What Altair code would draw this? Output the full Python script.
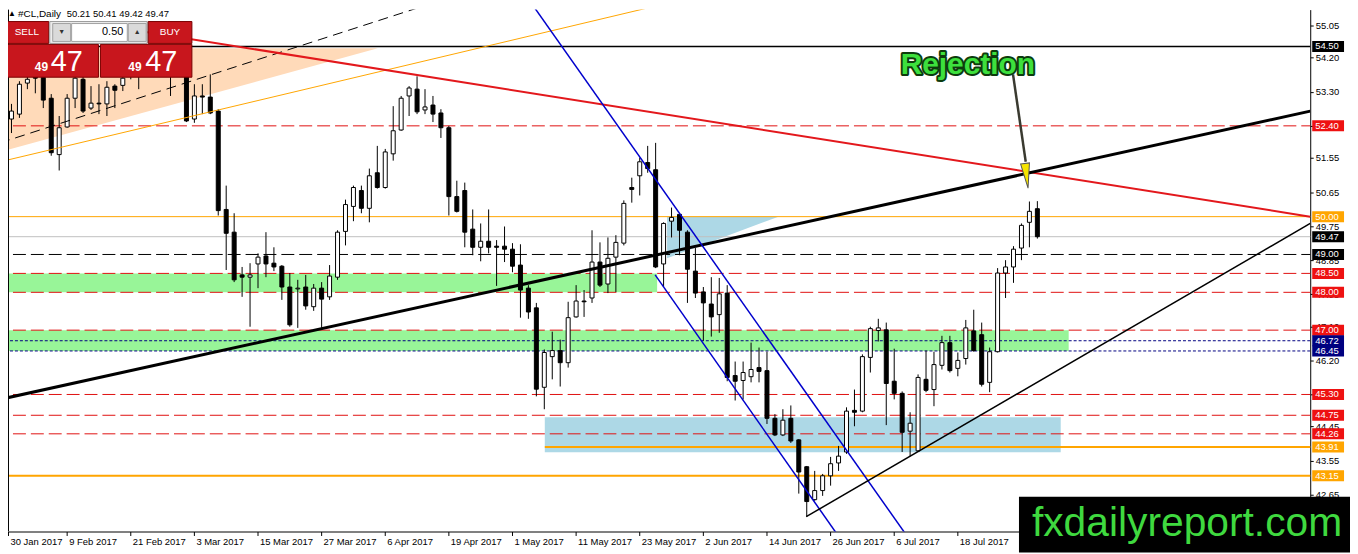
import json

import altair as alt
import pandas as pd

# #CL daily candles, bar 0 = 30 Jan 2017, one bar per trading day
opens = [53.19, 52.58, 52.71, 53.53, 53.71, 53.68, 53.13, 51.64, 52.37, 53.13,
         53.63, 52.87, 53.00, 52.98, 53.45, 53.47, 53.84, 53.79, 53.84, 54.11,
         53.97, 53.84, 53.79, 53.95, 52.58, 53.19, 53.16, 52.79, 50.19, 49.59,
         48.46, 48.40, 48.75, 48.96, 48.77, 48.69, 48.14, 48.09, 48.14, 47.62,
         48.11, 47.88, 48.40, 49.61, 50.27, 50.69, 50.22, 51.16, 50.77, 51.66,
         52.29, 53.19, 53.37, 52.82, 52.95, 52.74, 52.35, 50.53, 50.69, 49.67,
         49.19, 49.35, 49.22, 49.22, 49.14, 48.72, 48.11, 47.59, 45.49, 46.30,
         46.46, 46.14, 47.35, 47.77, 47.85, 48.80, 48.22, 48.93, 49.30, 50.77,
         51.08, 51.43, 51.24, 48.75, 49.88, 50.06, 49.59, 48.56, 48.01, 47.69,
         47.41, 47.98, 45.80, 45.67, 45.77, 46.01, 45.93, 44.67, 44.23, 44.67,
         44.10, 43.39, 42.52, 42.76, 43.15, 43.49, 43.78, 44.88, 44.86, 46.28,
         46.99, 47.01, 45.65, 45.33, 44.33, 43.81, 45.70, 45.43, 46.07, 46.67,
         45.99, 46.25, 46.98, 46.88, 45.62, 46.43, 48.51, 48.67, 49.17, 49.85,
         50.21]
highs = [53.45, 52.98, 53.58, 53.84, 53.90, 53.84, 53.24, 52.66, 53.24, 53.79,
         53.74, 53.45, 53.50, 53.58, 53.50, 53.79, 53.97, 53.95, 54.24, 54.32,
         54.24, 54.00, 54.05, 54.11, 53.50, 53.50, 53.76, 52.84, 50.82, 50.09,
         48.67, 48.77, 49.03, 49.59, 49.19, 48.72, 48.51, 48.33, 48.46, 48.22,
         48.27, 48.72, 49.64, 50.45, 50.82, 50.82, 51.27, 51.87, 51.79, 52.92,
         53.19, 53.45, 53.71, 53.37, 53.19, 52.84, 52.40, 50.95, 50.90, 50.19,
         49.82, 50.19, 49.38, 49.74, 49.30, 49.27, 48.19, 47.72, 46.49, 46.96,
         46.75, 47.75, 48.19, 48.06, 49.64, 49.32, 49.45, 49.51, 50.43, 51.03,
         51.56, 51.87, 51.95, 49.85, 50.24, 50.09, 49.64, 49.17, 48.14, 48.40,
         48.38, 48.19, 46.17, 46.17, 46.67, 46.54, 46.43, 44.78, 44.91, 45.01,
         44.12, 43.41, 43.28, 43.20, 43.65, 43.94, 44.96, 45.43, 46.36, 47.09,
         47.30, 47.20, 46.51, 45.38, 44.83, 45.83, 46.46, 46.43, 46.85, 46.85,
         46.41, 47.27, 47.54, 47.20, 46.54, 48.64, 48.85, 49.22, 49.82, 50.40,
         50.41]
lows = [52.32, 52.21, 52.61, 53.37, 53.26, 52.87, 51.61, 51.22, 52.35, 52.87,
        52.74, 52.82, 52.71, 52.66, 52.87, 53.32, 53.63, 53.37, 53.76, 53.79,
        53.76, 53.19, 53.74, 52.50, 52.48, 52.71, 52.71, 50.03, 48.59, 48.27,
        47.88, 47.09, 48.11, 48.40, 48.56, 47.80, 47.09, 47.06, 47.54, 47.51,
        47.06, 47.80, 48.33, 49.24, 49.88, 50.09, 49.85, 50.74, 50.74, 51.48,
        52.27, 52.66, 52.71, 52.71, 52.50, 52.08, 50.03, 50.11, 49.19, 48.98,
        48.82, 49.03, 48.17, 48.80, 48.53, 47.33, 47.30, 45.25, 44.91, 45.70,
        45.51, 46.01, 47.33, 47.35, 47.72, 48.14, 47.98, 48.01, 49.24, 50.37,
        50.56, 51.16, 48.64, 48.14, 49.45, 48.98, 47.72, 47.85, 46.72, 46.83,
        46.93, 45.65, 45.14, 45.17, 45.62, 45.62, 44.52, 44.20, 44.20, 44.02,
        42.68, 42.07, 42.49, 42.62, 42.89, 43.28, 43.73, 44.46, 44.83, 45.88,
        46.70, 44.49, 45.17, 43.78, 43.67, 43.78, 45.36, 44.99, 45.96, 45.88,
        45.78, 46.09, 46.43, 45.51, 45.36, 46.41, 47.85, 48.25, 48.85, 49.19,
        49.42]
closes = [52.45, 52.79, 53.50, 53.63, 53.66, 53.08, 51.69, 52.35, 53.13, 53.66,
          52.79, 53.00, 52.98, 53.42, 53.34, 53.66, 53.74, 53.71, 54.11, 53.97,
          54.05, 53.74, 53.90, 52.53, 53.19, 53.16, 52.74, 50.16, 49.56, 48.33,
          48.40, 48.46, 48.93, 48.75, 48.67, 48.14, 47.14, 48.11, 47.64, 48.11,
          47.82, 48.43, 49.59, 50.32, 50.77, 50.22, 51.08, 50.77, 51.71, 52.27,
          53.13, 53.40, 52.77, 52.90, 52.71, 52.35, 50.53, 50.14, 49.59, 49.19,
          49.35, 49.19, 49.19, 49.14, 48.69, 48.06, 47.48, 45.44, 46.41, 46.46,
          46.14, 47.33, 47.77, 47.75, 48.80, 48.19, 48.90, 49.32, 50.35, 50.72,
          51.45, 51.27, 48.67, 49.82, 49.98, 49.64, 48.61, 47.98, 47.72, 47.35,
          47.96, 45.75, 45.65, 45.88, 45.96, 45.91, 44.67, 44.23, 44.62, 44.07,
          43.25, 42.47, 42.76, 43.15, 43.47, 43.67, 44.86, 44.83, 46.30, 47.04,
          47.06, 45.59, 45.33, 44.30, 44.54, 45.75, 45.41, 46.09, 46.67, 45.93,
          46.20, 47.06, 46.46, 45.57, 46.43, 48.51, 48.67, 49.14, 49.77, 50.14,
          49.47]

# bottom scale, one label every 8 bars
date_ticks = [0.625, 8, 16, 24, 32, 40, 48, 56, 64, 72, 80, 88, 96, 104, 112, 120]
date_labels = ['30 Jan 2017', '9 Feb 2017', '21 Feb 2017', '3 Mar 2017', '15 Mar 2017',
               '27 Mar 2017', '6 Apr 2017', '19 Apr 2017', '1 May 2017', '11 May 2017',
               '23 May 2017', '2 Jun 2017', '14 Jun 2017', '26 Jun 2017', '6 Jul 2017',
               '18 Jul 2017']

# right price scale
price_ticks = [55.05, 54.20, 53.30, 52.40, 51.55, 50.65, 49.75, 48.85, 47.95, 47.10,
               46.20, 45.30, 44.45, 43.55, 42.65]

# horizontal levels
red_levels = [52.40, 48.50, 48.00, 47.00, 45.30, 44.75, 44.26]
black_dash_levels = [49.00]
navy_levels = [46.72, 46.45]
black_levels = [54.50]
orange_levels = [50.00]
orange_thick_levels = [43.15]
support_levels = [43.91]
bid_levels = [closes[-1]]

# zones (bar index from/to, price low/high)
green_start = [-1, -1]
green_end = [82.25, 134]
green_lo = [48.00, 46.45]
green_hi = [48.50, 47.00]
blue_start = [68.125]
blue_end = [133]
blue_lo = [43.77]
blue_hi = [44.70]

peach_i = [-0.375, 47.125]
peach_lo = [51.71, 54.45]
peach_hi = [54.45, 54.45]
tri_i = [83.5, 97.5]
tri_lo = [48.90, 50.00]
tri_hi = [50.00, 50.00]

# trend lines, two anchors each (bar index, price)
red_i, red_p = [15, 164.375], [54.98, 50.00]
thick_i, thick_p = [-0.375, 164.375], [45.17, 52.79]
orange_i, orange_p = [-0.375, 82.75], [51.45, 55.60]
dash_i, dash_p = [-0.375, 53.375], [51.95, 55.60]
chan_up_i, chan_up_p = [65, 114], [56.07, 41.46]
chan_lo_i, chan_lo_p = [82, 105], [48.46, 41.57]
support_i, support_p = [101, 164.375], [42.07, 49.82]

# annotation
arrow_i, arrow_p = [127, 128.6], [53.76, 51.45]
head_i, head_p = [128.7], [51.08]
note_i, note_p = [112.875], [53.76]

FONT = 'Liberation Sans'
RED = '#e01010'
ORANGE = '#ffa500'
NAVY = '#000080'
PANEL_RED = '#c8161d'

xs = alt.Scale(domain=[0.625, 164.375], nice=False, zero=False)
ys = alt.Scale(domain=[41.678, 55.472], nice=False, zero=False)

# every layer carries the same axis spec so they merge into one
x_axis = alt.Axis(values=date_ticks,
                  labelExpr=json.dumps(date_labels) + '[round(datum.value / 8)]',
                  title=None, grid=False, domainColor='black', tickColor='black',
                  tickSize=4, labelFont=FONT, labelFontSize=9.5, labelColor='black',
                  labelAlign='left', labelOffset=2, labelPadding=1, labelFlush=False,
                  labelOverlap=False)
y_axis = alt.Axis(orient='right', values=price_ticks, format='.2f', title=None,
                  grid=False, domainColor='black', tickColor='black', tickSize=3,
                  labelFont=FONT, labelFontSize=9.5, labelColor='black', labelPadding=2,
                  labelFlush=False, labelOverlap=False)


def X(field):
    return alt.X(field, type='quantitative', scale=xs, axis=x_axis)


def Y(field):
    return alt.Y(field, type='quantitative', scale=ys, axis=y_axis)


def hline(levels, color, width, dash=None, start=-1):
    kw = dict(color=color, strokeWidth=width, clip=True)
    if dash:
        kw['strokeDash'] = dash
    return alt.Chart(pd.DataFrame({'p': levels})).transform_calculate(
        i0=str(start), i1='170'
    ).mark_rule(**kw).encode(x=X('i0'), x2='i1', y=Y('p'))


def zone(start, end, lo, hi, color):
    df = pd.DataFrame({'i0': start, 'i1': end, 'lo': lo, 'hi': hi})
    return alt.Chart(df).mark_rect(color=color, clip=True).encode(
        x=X('i0'), x2='i1', y=Y('lo'), y2='hi')


def wedge(i, lo, hi, color):
    df = pd.DataFrame({'i': i, 'lo': lo, 'hi': hi})
    return alt.Chart(df).mark_area(color=color, opacity=1, clip=True).encode(
        x=X('i'), y=Y('lo'), y2='hi')


def tline(i, p, color, width, dash=None):
    kw = dict(color=color, strokeWidth=width, clip=True)
    if dash:
        kw['strokeDash'] = dash
    return alt.Chart(pd.DataFrame({'i': i, 'p': p})).mark_line(**kw).encode(
        x=X('i'), y=Y('p'))


def tags(levels, color):
    df = pd.DataFrame({'p': levels})
    box = alt.Chart(df).transform_calculate(
        top='datum.p + 0.145', bot='datum.p - 0.145'
    ).mark_rect(color=color).encode(
        x=alt.value(1312), x2=alt.value(1344), y=Y('top'), y2='bot')
    txt = alt.Chart(df).mark_text(
        align='left', baseline='middle', font=FONT, fontSize=9.5, color='white'
    ).encode(x=alt.value(1315), y=Y('p'), text=alt.Text('p:Q', format='.2f'))
    return box + txt


one = pd.DataFrame({'k': [0]})


def box(x0, y0, x1, y1, fill, stroke=None):
    kw = dict(fill=fill)
    if stroke:
        kw.update(stroke=stroke, strokeWidth=1)
    return alt.Chart(one).mark_rect(**kw).encode(
        x=alt.value(x0), x2=alt.value(x1), y=alt.value(y0), y2=alt.value(y1))


def label(x, y, text, **kw):
    opts = dict(font=FONT, fontSize=10, color='black', align='left', baseline='middle')
    opts.update(kw)
    return alt.Chart(one).mark_text(text=text, **opts).encode(
        x=alt.value(x), y=alt.value(y))


candles = pd.DataFrame({'i': range(len(opens)), 'o': opens, 'h': highs,
                        'l': lows, 'c': closes})

wicks = alt.Chart(candles).transform_calculate(
    xm='datum.i + 0.0625'
).mark_rule(color='black', strokeWidth=1, clip=True).encode(
    x=X('xm'), y=Y('l'), y2='h')

bodies = alt.Chart(candles).transform_calculate(
    x0='datum.i + 0.0625 - 0.25', x1='datum.i + 0.0625 + 0.25',
    fillc='datum.c >= datum.o ? "white" : "black"'
).mark_rect(stroke='black', strokeWidth=1, clip=True).encode(
    x=X('x0'), x2='x1', y=Y('o'), y2='c', fill=alt.Fill('fillc:N', scale=None))

note_df = pd.DataFrame({'i': note_i, 'p': note_p})
note_outline = alt.Chart(note_df).mark_text(
    text='Rejection', align='left', baseline='alphabetic', font=FONT, fontWeight='bold',
    fontSize=30, fill='#0d3b0d', stroke='#0d3b0d', strokeWidth=4, strokeJoin='round'
).encode(x=X('i'), y=Y('p'))
note_fill = alt.Chart(note_df).mark_text(
    text='Rejection', align='left', baseline='alphabetic', font=FONT, fontWeight='bold',
    fontSize=30, fill='#3de03d'
).encode(x=X('i'), y=Y('p'))

arrow = tline(arrow_i, arrow_p, '#3a3a30', 2.5)
head = alt.Chart(pd.DataFrame({'i': head_i, 'p': head_p})).mark_point(
    shape='M-0.36,-1L0.36,-1L0,1Z', size=625, angle=353, filled=True,
    fill='#f5e400', stroke='#555555', strokeWidth=1, opacity=1
).encode(x=X('i'), y=Y('p'))

header = (
    label(0, 4, '▲', fontSize=8)
    + label(10, 4, '#CL,Daily')
    + label(59, 4, f'{opens[-1]:.2f} {highs[-1]:.2f} {lows[-1]:.2f} {closes[-1]:.2f}',
            fontSize=9.5)
)

panel = (
    box(-2, 12, 41, 34, PANEL_RED, '#7a0000')
    + box(42, 12, 140, 34, '#ececec', '#9a9a9a')
    + box(45, 14, 63, 32, '#dadada', '#a0a0a0')
    + box(64, 14, 120, 32, 'white', '#a0a0a0')
    + box(121, 14, 139, 32, '#dadada', '#a0a0a0')
    + box(141, 12, 185, 34, PANEL_RED, '#7a0000')
    + box(-2, 35, 91, 68, PANEL_RED, '#7a0000')
    + box(93, 35, 185, 68, PANEL_RED, '#7a0000')
    + label(19, 23, 'SELL', color='white', align='center')
    + label(54, 23, '▼', fontSize=7, color='#333333', align='center')
    + label(116, 23, '0.50', fontSize=11, align='right')
    + label(130, 23, '▲', fontSize=7, color='#333333', align='center')
    + label(163, 23, 'BUY', color='white', align='center')
    + label(27, 62, '49', fontSize=12, fontWeight='bold', color='white', baseline='alphabetic')
    + label(43, 62, '47', fontSize=29, color='white', baseline='alphabetic')
    + label(121, 62, '49', fontSize=12, fontWeight='bold', color='white', baseline='alphabetic')
    + label(138, 62, '47', fontSize=29, color='white', baseline='alphabetic')
)

left_border = alt.Chart(one).mark_rule(color='black', strokeWidth=1).encode(
    x=alt.value(0.5), y=alt.value(0), y2=alt.value(525))

watermark = (
    box(1017, 490, 1350, 546, 'black')
    + label(1030, 530, 'fxdailyreport.com', fontSize=41, color='#3fd93f',
            baseline='alphabetic')
)

chart = alt.layer(
    wedge(peach_i, peach_lo, peach_hi, '#ffdab9'),
    zone(green_start, green_end, green_lo, green_hi, '#98f598'),
    zone(blue_start, blue_end, blue_lo, blue_hi, '#add8e6'),
    wedge(tri_i, tri_lo, tri_hi, '#add8e6'),
    hline(black_levels, 'black', 1.5),
    hline(orange_levels, ORANGE, 1),
    hline(bid_levels, '#c0c0c0', 1),
    hline(red_levels, RED, 1, dash=[13, 5]),
    hline(black_dash_levels, 'black', 1, dash=[13, 5]),
    hline(navy_levels, NAVY, 1, dash=[3, 2]),
    hline(support_levels, ORANGE, 2, start=68.125),
    hline(orange_thick_levels, ORANGE, 2),
    wicks,
    bodies,
    tline(dash_i, dash_p, 'black', 1, dash=[10, 6]),
    tline(orange_i, orange_p, ORANGE, 1),
    tline(red_i, red_p, '#e3181c', 2),
    tline(thick_i, thick_p, 'black', 3),
    tline(chan_up_i, chan_up_p, '#0000cc', 1.5),
    tline(chan_lo_i, chan_lo_p, '#0000cc', 1.5),
    tline(support_i, support_p, 'black', 1.5),
    left_border,
    tags(black_levels + bid_levels + black_dash_levels, 'black'),
    tags(red_levels, '#ee1111'),
    tags(orange_levels + support_levels + orange_thick_levels, ORANGE),
    tags(navy_levels, NAVY),
    arrow,
    head,
    note_outline,
    note_fill,
    header,
    panel,
    watermark,
).properties(
    width=1310,
    height=525,
    padding={'left': 0, 'top': 0, 'right': 40, 'bottom': 21},
    autosize=alt.AutoSizeParams(type='none'),
).configure_view(stroke=None)

chart.save('out.html', embed_options={'renderer': 'svg', 'actions': False})
